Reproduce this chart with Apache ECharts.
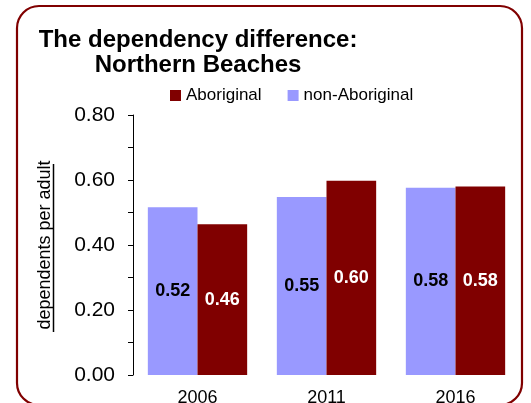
<!DOCTYPE html>
<html>
<head>
<meta charset="utf-8">
<script src="https://cdn.jsdelivr.net/npm/echarts@6/dist/echarts.min.js"></script>
<style>
html,body{margin:0;padding:0;background:#fff;}
#c{width:531px;height:403px;}
</style>
</head>
<body>
<div id="c"></div>
<script>
var categories = ['2006', '2011', '2016'];
var nonAboriginal = [0.516, 0.548, 0.576];
var aboriginal = [0.464, 0.598, 0.580];
var seriesNames = ['Aboriginal', 'non-Aboriginal'];
var titleText = 'The dependency difference:\nNorthern Beaches';
var yAxisName = 'dependents per adult';

var FONT = '"Liberation Sans", Arial, sans-serif';
var RED = '#800000';
var BLUE = '#9999FF';

var chart = echarts.init(document.getElementById('c'));
chart.setOption({
  animation: false,
  backgroundColor: '#fff',
  textStyle: { fontFamily: FONT },
  title: {
    text: titleText,
    left: 198,
    top: 28,
    padding: 0,
    textAlign: 'center',
    textStyle: { fontFamily: FONT, fontSize: 24, fontWeight: 'bold', color: '#000', lineHeight: 25 }
  },
  legend: {
    data: seriesNames,
    left: 170,
    top: 87,
    padding: 0,
    itemWidth: 11,
    itemHeight: 11,
    itemGap: 26,
    icon: 'rect',
    textStyle: { fontFamily: FONT, fontSize: 17, color: '#000' }
  },
  grid: { left: 133, right: 11, top: 115, bottom: 28, containLabel: false, outerBoundsMode: 'none' },
  xAxis: {
    type: 'category',
    data: categories,
    axisLine: { show: false },
    axisTick: { show: false },
    axisLabel: { fontFamily: FONT, fontSize: 18, color: '#000', margin: 14 }
  },
  yAxis: {
    type: 'value',
    min: 0,
    max: 0.8,
    interval: 0.2,
    name: yAxisName,
    nameLocation: 'middle',
    nameGap: 79,
    nameTextStyle: { fontFamily: FONT, fontSize: 18, color: '#000' },
    axisLine: { show: true, lineStyle: { color: '#000', width: 1 } },
    axisTick: { show: true, inside: false, length: 5, lineStyle: { color: '#000' } },
    minorTick: { show: true, splitNumber: 2, length: 5, lineStyle: { color: '#000' } },
    splitLine: { show: false },
    axisLabel: {
      fontFamily: FONT, fontSize: 21, color: '#000', margin: 18,
      formatter: function (v) { return v.toFixed(2); }
    }
  },
  series: [
    {
      name: 'non-Aboriginal',
      type: 'bar',
      data: nonAboriginal,
      barGap: '0%',
      barCategoryGap: '23%',
      itemStyle: { color: BLUE },
      label: {
        show: true, position: 'inside', fontFamily: FONT, fontSize: 18, fontWeight: 'bold', color: '#000',
        formatter: function (p) { return p.value.toFixed(2); }
      }
    },
    {
      name: 'Aboriginal',
      type: 'bar',
      data: aboriginal,
      barGap: '0%',
      barCategoryGap: '23%',
      itemStyle: { color: RED },
      label: {
        show: true, position: 'inside', fontFamily: FONT, fontSize: 18, fontWeight: 'bold', color: '#fff',
        formatter: function (p) { return p.value.toFixed(2); }
      }
    }
  ],
  graphic: [
    {
      type: 'rect',
      z: -1,
      shape: { x: 17, y: 6, width: 505, height: 399, r: 22 },
      style: { fill: 'none', stroke: RED, lineWidth: 2.2 }
    },
    {
      type: 'line',
      shape: { x1: 53.5, y1: 164, x2: 53.5, y2: 332 },
      style: { stroke: '#000', lineWidth: 1.5 }
    }
  ]
});
</script>
</body>
</html>
